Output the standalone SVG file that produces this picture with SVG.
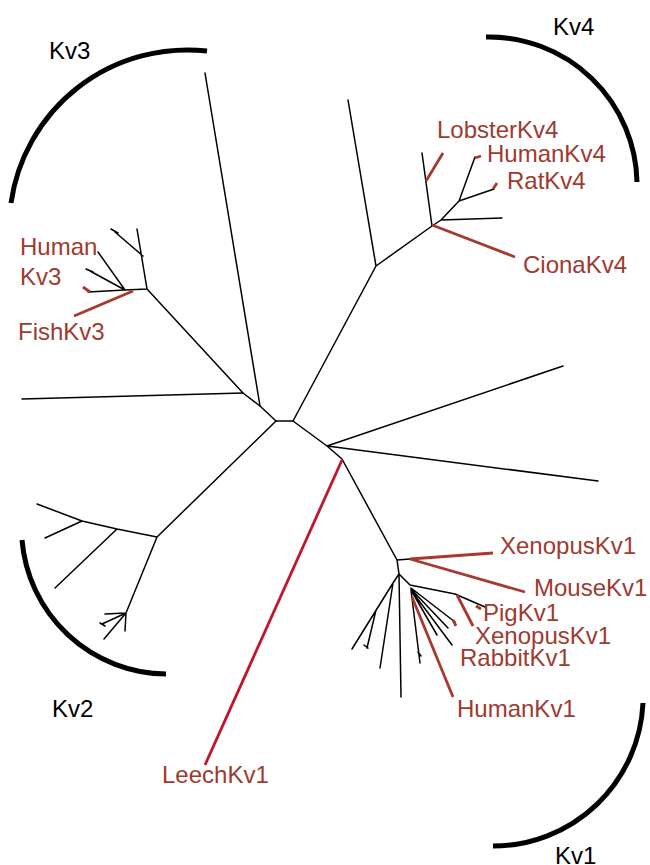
<svg xmlns="http://www.w3.org/2000/svg" width="650" height="865" viewBox="0 0 650 865">
<style>
.t{fill:none;stroke:#000;stroke-width:1.5;stroke-linecap:round;stroke-linejoin:round}
.r{fill:none;stroke:#a8392f;stroke-width:2.8;stroke-linecap:butt}
.lr{fill:none;stroke:#c0152d;stroke-width:2.8}
.arc{fill:none;stroke:#000;stroke-width:5}
text{font-family:"Liberation Sans",Arial,Helvetica,sans-serif;font-size:24px}
.lab{fill:#9e3a2f}
.cl{fill:#000}
</style>
<rect width="650" height="865" fill="#fff"/>
<g id="connectors">
<path class="t" d="M276,421 L293,421"/>
<path class="t" d="M276,421 L260,406 L243,393 L147,289"/>
<path class="t" d="M260,406 L205,73"/>
<path class="t" d="M243,393 L22,399"/>
<path class="t" d="M147,289 L137,229 M143,256 L115,232 M111,229 L118,233 M147,289 L125,290 L98,252 M125,290 L90,271 M86,269 L93,272 M125,290 L88,292"/>
<path class="t" d="M276,421 L157,537 L117,529 L82,521 L37,504 M82,521 L45,538 M117,529 L55,588 M157,537 L126,613 L105,614 M126,613 L102,624 M126,613 L104,639 M126,613 L125,631 M100,623 L105,626"/>
<path class="t" d="M293,421 L376,266 L348,100 M376,266 L432,226 L422,153 M432,226 L441,220 L502,218 M441,220 L459,201 L494,189 M459,201 L475,157"/>
<path class="t" d="M293,421 L327,446 L563,366 M327,446 L598,481 M327,446 L342,459 L397,560 L410,559 M397,560 L399,574 L401,697 M399,574 L393,583 L352,649 M393,583 L380,668 M376,610 L367,648 M364,645 L368,648 M399,574 L410,585 L455,594 L485,607 M411,588 L455,622 M411,589 L448,628 M411,590 L437,635 M411,590 L452,645 M411,590 L420,663 M418,652 L421,656"/>
<g id="red-branches">
<path class="r" d="M133,291 L74,316 M83,287 L90,292"/>
<path class="r" d="M426,181 L443,153 M432,225 L515,257 M493,189 L497,183 M475,158 L481,156"/>
<path class="r" d="M410,559 L493,553 M410,559 L525,592 M476,606 L481,609 M457,595 L473,626 M453,620 L456,626 M412,597 L453,697"/>
<path class="lr" d="M342,460 L205,765"/>
</g>
</g>
<g id="clade-Kv3"><path class="arc" d="M11,203 A178,178 0 0 1 207,51"/><text class="cl" x="49" y="59">Kv3</text></g>
<g id="clade-Kv4"><path class="arc" d="M486,37 A148,148 0 0 1 637,182"/><text class="cl" x="553" y="35">Kv4</text></g>
<g id="clade-Kv1"><path class="arc" d="M643,703 A150,150 0 0 1 493,846"/><text class="cl" x="555" y="864">Kv1</text></g>
<g id="clade-Kv2"><path class="arc" d="M22,540 A146,146 0 0 0 166,674"/><text class="cl" x="52" y="717">Kv2</text></g>
<g id="leaf-HumanKv3"><text class="lab" x="20" y="255">Human</text><text class="lab" x="20" y="285">Kv3</text></g>
<g id="leaf-FishKv3"><text class="lab" x="18" y="340">FishKv3</text></g>
<g id="leaf-LobsterKv4"><text class="lab" x="437" y="138">LobsterKv4</text></g>
<g id="leaf-HumanKv4"><text class="lab" x="487" y="162">HumanKv4</text></g>
<g id="leaf-RatKv4"><text class="lab" x="507" y="189">RatKv4</text></g>
<g id="leaf-CionaKv4"><text class="lab" x="523" y="273">CionaKv4</text></g>
<g id="leaf-XenopusKv1a"><text class="lab" x="500" y="554">XenopusKv1</text></g>
<g id="leaf-MouseKv1"><text class="lab" x="534" y="596">MouseKv1</text></g>
<g id="leaf-PigKv1"><text class="lab" x="483" y="621">PigKv1</text></g>
<g id="leaf-XenopusKv1b"><text class="lab" x="475" y="644">XenopusKv1</text></g>
<g id="leaf-RabbitKv1"><text class="lab" x="460" y="666">RabbitKv1</text></g>
<g id="leaf-HumanKv1"><text class="lab" x="457" y="717">HumanKv1</text></g>
<g id="leaf-LeechKv1"><text class="lab" x="162" y="783">LeechKv1</text></g>
</svg>
